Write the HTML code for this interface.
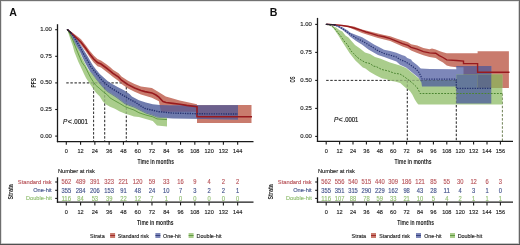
<!DOCTYPE html>
<html><head><meta charset="utf-8"><title>KM curves</title>
<style>html,body{margin:0;padding:0;background:#fff;width:520px;height:245px;overflow:hidden}
svg text{font-family:"Liberation Sans", sans-serif} svg{will-change:transform}</style></head>
<body>
<svg width="520" height="245" viewBox="0 0 520 245" font-family='"Liberation Sans", sans-serif' style="display:block">
<defs><clipPath id="cAr"><path d="M67.50,29.60 L72.00,32.20 L78.20,36.97 L81.00,39.35 L85.70,45.13 L89.70,50.85 L93.70,55.56 L97.50,59.07 L101.00,60.43 L106.40,64.36 L110.00,67.12 L113.00,69.68 L118.60,73.32 L121.50,76.39 L128.00,80.75 L134.60,84.00 L141.00,86.56 L151.90,88.10 L158.90,92.30 L165.80,96.40 L172.80,98.50 L179.70,100.60 L186.70,102.00 L193.60,103.40 L197.00,104.20 L197.00,105.00 L251.50,105.00 L251.50,123.00 L197.00,123.00 L197.00,111.70 L161.00,111.70 L158.90,101.30 L151.90,97.80 L141.00,94.44 L134.60,91.80 L128.00,88.45 L121.50,84.01 L118.60,80.88 L113.00,77.12 L110.00,74.48 L106.40,71.64 L101.00,67.57 L97.50,66.13 L93.70,62.44 L89.70,57.35 L85.70,51.27 L81.00,45.05 L78.20,42.03 L72.00,35.40 L67.50,29.60 Z"/></clipPath><clipPath id="cAb"><path d="M67.50,29.60 L71.00,32.50 L75.00,37.00 L79.00,42.50 L82.00,47.00 L84.70,51.50 L87.50,56.00 L90.30,61.00 L93.00,65.50 L96.00,69.50 L99.80,74.00 L103.70,77.40 L107.60,80.90 L111.80,83.80 L117.60,86.90 L124.00,90.30 L129.60,94.00 L131.90,96.50 L138.90,100.30 L145.80,102.50 L152.80,104.30 L159.70,105.00 L170.00,105.40 L238.00,105.20 L238.00,119.50 L172.80,118.60 L157.00,117.50 L152.80,115.80 L145.80,113.50 L138.90,110.00 L134.00,107.50 L129.60,106.00 L124.70,104.00 L119.80,100.20 L115.70,97.20 L111.80,94.80 L107.80,92.30 L104.70,89.50 L101.70,86.30 L98.80,82.80 L95.80,78.90 L92.90,75.00 L89.70,71.00 L87.30,66.70 L84.70,62.00 L82.30,57.00 L80.30,52.50 L77.00,47.00 L74.50,42.50 L71.50,36.50 L69.00,32.00 L67.50,29.60 Z"/></clipPath><clipPath id="cBr"><path d="M326.40,24.30 L336.00,24.60 L342.00,25.00 L348.50,25.70 L354.00,26.50 L362.00,29.50 L370.00,31.50 L378.00,33.50 L384.10,35.00 L390.20,36.20 L396.40,38.50 L402.50,40.50 L408.00,42.30 L411.10,44.30 L417.20,45.50 L423.40,48.00 L429.50,49.20 L432.00,48.50 L435.70,49.50 L439.30,51.00 L443.00,52.30 L446.70,53.20 L477.60,53.20 L477.60,51.30 L508.90,51.30 L508.90,87.90 L477.60,87.90 L477.60,75.00 L463.50,75.00 L463.50,67.30 L456.50,67.30 L450.40,66.60 L446.70,65.40 L443.00,62.40 L439.30,60.50 L435.70,58.00 L429.50,57.10 L423.40,55.30 L417.20,52.90 L411.10,50.40 L408.00,48.50 L402.50,46.60 L390.20,41.10 L378.00,38.10 L370.00,35.50 L362.00,33.00 L354.00,29.50 L348.50,27.30 L342.00,26.00 L336.00,25.20 L326.40,24.30 Z"/></clipPath><clipPath id="cBb"><path d="M326.40,24.30 L333.00,24.50 L337.50,25.50 L342.40,27.30 L348.50,31.00 L350.00,32.40 L356.10,34.90 L362.20,37.30 L368.40,41.00 L374.50,44.70 L378.00,46.60 L384.10,49.70 L390.20,50.90 L396.40,52.70 L402.50,55.20 L405.00,55.90 L407.30,58.00 L411.10,59.60 L412.20,61.20 L417.10,65.00 L420.80,68.40 L430.00,69.00 L456.30,69.20 L456.30,66.00 L491.30,66.00 L491.30,103.40 L456.30,103.40 L456.30,86.60 L422.00,86.60 L421.40,82.50 L418.40,77.60 L412.20,72.50 L406.10,67.50 L400.00,64.70 L396.40,61.50 L390.20,59.30 L384.10,57.00 L378.00,55.00 L374.50,53.00 L368.40,49.50 L362.20,44.70 L356.10,41.00 L350.00,36.50 L348.50,34.70 L342.40,29.80 L337.50,26.70 L333.00,25.30 L326.40,24.30 Z"/></clipPath></defs>
<rect x="0" y="0" width="520" height="245" fill="#fff"/>
<text x="9.20" y="15.60" font-size="10.6" text-anchor="start" fill="#111" font-weight="bold">A</text>
<g opacity="1">
<line x1="66.30" y1="82.90" x2="126.30" y2="82.90" stroke="#222" stroke-width="0.9" stroke-dasharray="2.4,1.7"/>
<line x1="93.60" y1="82.90" x2="93.60" y2="141.60" stroke="#222" stroke-width="0.9" stroke-dasharray="2.4,1.7"/>
<line x1="104.70" y1="82.90" x2="104.70" y2="141.60" stroke="#222" stroke-width="0.9" stroke-dasharray="2.4,1.7"/>
<line x1="126.30" y1="82.90" x2="126.30" y2="141.60" stroke="#222" stroke-width="0.9" stroke-dasharray="2.4,1.7"/>
</g>
<path d="M67.50,29.60 L72.00,32.20 L78.20,36.97 L81.00,39.35 L85.70,45.13 L89.70,50.85 L93.70,55.56 L97.50,59.07 L101.00,60.43 L106.40,64.36 L110.00,67.12 L113.00,69.68 L118.60,73.32 L121.50,76.39 L128.00,80.75 L134.60,84.00 L141.00,86.56 L151.90,88.10 L158.90,92.30 L165.80,96.40 L172.80,98.50 L179.70,100.60 L186.70,102.00 L193.60,103.40 L197.00,104.20 L197.00,105.00 L251.50,105.00 L251.50,123.00 L197.00,123.00 L197.00,111.70 L161.00,111.70 L158.90,101.30 L151.90,97.80 L141.00,94.44 L134.60,91.80 L128.00,88.45 L121.50,84.01 L118.60,80.88 L113.00,77.12 L110.00,74.48 L106.40,71.64 L101.00,67.57 L97.50,66.13 L93.70,62.44 L89.70,57.35 L85.70,51.27 L81.00,45.05 L78.20,42.03 L72.00,35.40 L67.50,29.60 Z" fill="#c97b6d"/>
<path d="M67.50,29.60 L71.00,32.50 L75.00,37.00 L79.00,42.50 L82.00,47.00 L84.70,51.50 L87.50,56.00 L90.30,61.00 L93.00,65.50 L96.00,69.50 L99.80,74.00 L103.70,77.40 L107.60,80.90 L111.80,83.80 L117.60,86.90 L124.00,90.30 L129.60,94.00 L131.90,96.50 L138.90,100.30 L145.80,102.50 L152.80,104.30 L159.70,105.00 L170.00,105.40 L238.00,105.20 L238.00,119.50 L172.80,118.60 L157.00,117.50 L152.80,115.80 L145.80,113.50 L138.90,110.00 L134.00,107.50 L129.60,106.00 L124.70,104.00 L119.80,100.20 L115.70,97.20 L111.80,94.80 L107.80,92.30 L104.70,89.50 L101.70,86.30 L98.80,82.80 L95.80,78.90 L92.90,75.00 L89.70,71.00 L87.30,66.70 L84.70,62.00 L82.30,57.00 L80.30,52.50 L77.00,47.00 L74.50,42.50 L71.50,36.50 L69.00,32.00 L67.50,29.60 Z" fill="#6f7bad"/>
<path d="M67.50,29.60 L71.00,32.50 L75.00,37.00 L79.00,42.50 L82.00,47.00 L84.70,51.50 L87.50,56.00 L90.30,61.00 L93.00,65.50 L96.00,69.50 L99.80,74.00 L103.70,77.40 L107.60,80.90 L111.80,83.80 L117.60,86.90 L124.00,90.30 L129.60,94.00 L131.90,96.50 L138.90,100.30 L145.80,102.50 L152.80,104.30 L159.70,105.00 L170.00,105.40 L238.00,105.20 L238.00,119.50 L172.80,118.60 L157.00,117.50 L152.80,115.80 L145.80,113.50 L138.90,110.00 L134.00,107.50 L129.60,106.00 L124.70,104.00 L119.80,100.20 L115.70,97.20 L111.80,94.80 L107.80,92.30 L104.70,89.50 L101.70,86.30 L98.80,82.80 L95.80,78.90 L92.90,75.00 L89.70,71.00 L87.30,66.70 L84.70,62.00 L82.30,57.00 L80.30,52.50 L77.00,47.00 L74.50,42.50 L71.50,36.50 L69.00,32.00 L67.50,29.60 Z" fill="#6c608d" clip-path="url(#cAr)"/>
<path d="M67.50,29.60 L69.50,32.00 L72.00,36.50 L74.50,41.50 L77.00,46.50 L79.80,52.00 L81.80,56.90 L84.20,61.80 L86.70,66.70 L89.10,71.00 L92.90,74.00 L95.80,77.90 L98.80,81.80 L101.70,85.30 L104.70,88.50 L107.80,91.30 L111.80,93.80 L115.70,96.20 L119.80,99.20 L124.70,103.00 L129.60,105.00 L134.00,106.50 L138.90,109.00 L145.80,112.50 L152.80,114.80 L157.00,116.80 L167.00,117.50 L167.00,126.50 L157.00,125.50 L152.80,121.00 L145.80,119.00 L138.90,117.00 L134.00,116.50 L129.60,115.00 L124.70,113.50 L119.80,111.50 L114.90,108.70 L110.00,106.70 L106.00,104.50 L102.90,101.60 L99.80,96.50 L95.80,92.60 L92.70,88.00 L90.70,85.10 L88.30,81.60 L86.00,78.00 L84.00,74.00 L82.20,70.00 L80.30,66.00 L78.30,61.80 L76.40,56.90 L74.40,52.00 L72.80,46.00 L71.00,41.00 L69.50,36.50 L68.00,32.00 L67.50,29.60 Z" fill="#aacd8c"/>
<path d="M67.50,29.60 L69.50,32.00 L72.00,36.50 L74.50,41.50 L77.00,46.50 L79.80,52.00 L81.80,56.90 L84.20,61.80 L86.70,66.70 L89.10,71.00 L92.90,74.00 L95.80,77.90 L98.80,81.80 L101.70,85.30 L104.70,88.50 L107.80,91.30 L111.80,93.80 L115.70,96.20 L119.80,99.20 L124.70,103.00 L129.60,105.00 L134.00,106.50 L138.90,109.00 L145.80,112.50 L152.80,114.80 L157.00,116.80 L167.00,117.50 L167.00,126.50 L157.00,125.50 L152.80,121.00 L145.80,119.00 L138.90,117.00 L134.00,116.50 L129.60,115.00 L124.70,113.50 L119.80,111.50 L114.90,108.70 L110.00,106.70 L106.00,104.50 L102.90,101.60 L99.80,96.50 L95.80,92.60 L92.70,88.00 L90.70,85.10 L88.30,81.60 L86.00,78.00 L84.00,74.00 L82.20,70.00 L80.30,66.00 L78.30,61.80 L76.40,56.90 L74.40,52.00 L72.80,46.00 L71.00,41.00 L69.50,36.50 L68.00,32.00 L67.50,29.60 Z" fill="#64789a" clip-path="url(#cAb)"/>
<path d="M67.50,29.60 L69.50,32.00 L72.00,36.50 L74.50,41.50 L77.00,46.50 L79.80,52.00 L81.80,56.90 L84.20,61.80 L86.70,66.70 L89.10,71.00 L92.90,74.00 L95.80,77.90 L98.80,81.80 L101.70,85.30 L104.70,88.50 L107.80,91.30 L111.80,93.80 L115.70,96.20 L119.80,99.20 L124.70,103.00 L129.60,105.00 L134.00,106.50 L138.90,109.00 L145.80,112.50 L152.80,114.80 L157.00,116.80 L167.00,117.50 L167.00,126.50 L157.00,125.50 L152.80,121.00 L145.80,119.00 L138.90,117.00 L134.00,116.50 L129.60,115.00 L124.70,113.50 L119.80,111.50 L114.90,108.70 L110.00,106.70 L106.00,104.50 L102.90,101.60 L99.80,96.50 L95.80,92.60 L92.70,88.00 L90.70,85.10 L88.30,81.60 L86.00,78.00 L84.00,74.00 L82.20,70.00 L80.30,66.00 L78.30,61.80 L76.40,56.90 L74.40,52.00 L72.80,46.00 L71.00,41.00 L69.50,36.50 L68.00,32.00 L67.50,29.60 Z" fill="#9aa660" clip-path="url(#cAr)"/>
<g clip-path="url(#cAr)"><path d="M67.50,29.60 L69.50,32.00 L72.00,36.50 L74.50,41.50 L77.00,46.50 L79.80,52.00 L81.80,56.90 L84.20,61.80 L86.70,66.70 L89.10,71.00 L92.90,74.00 L95.80,77.90 L98.80,81.80 L101.70,85.30 L104.70,88.50 L107.80,91.30 L111.80,93.80 L115.70,96.20 L119.80,99.20 L124.70,103.00 L129.60,105.00 L134.00,106.50 L138.90,109.00 L145.80,112.50 L152.80,114.80 L157.00,116.80 L167.00,117.50 L167.00,126.50 L157.00,125.50 L152.80,121.00 L145.80,119.00 L138.90,117.00 L134.00,116.50 L129.60,115.00 L124.70,113.50 L119.80,111.50 L114.90,108.70 L110.00,106.70 L106.00,104.50 L102.90,101.60 L99.80,96.50 L95.80,92.60 L92.70,88.00 L90.70,85.10 L88.30,81.60 L86.00,78.00 L84.00,74.00 L82.20,70.00 L80.30,66.00 L78.30,61.80 L76.40,56.90 L74.40,52.00 L72.80,46.00 L71.00,41.00 L69.50,36.50 L68.00,32.00 L67.50,29.60 Z" fill="#5f6c89" clip-path="url(#cAb)"/></g>
<g opacity="0.3">
<line x1="66.30" y1="82.90" x2="126.30" y2="82.90" stroke="#222" stroke-width="0.9" stroke-dasharray="2.4,1.7"/>
<line x1="93.60" y1="82.90" x2="93.60" y2="141.60" stroke="#222" stroke-width="0.9" stroke-dasharray="2.4,1.7"/>
<line x1="104.70" y1="82.90" x2="104.70" y2="141.60" stroke="#222" stroke-width="0.9" stroke-dasharray="2.4,1.7"/>
<line x1="126.30" y1="82.90" x2="126.30" y2="141.60" stroke="#222" stroke-width="0.9" stroke-dasharray="2.4,1.7"/>
</g>
<path d="M67.50,29.60 L72.00,33.80 L78.20,39.50 L81.00,42.20 L85.70,48.20 L89.70,54.10 L93.70,59.00 L97.50,62.60 L101.00,64.00 L106.40,68.00 L110.00,70.80 L113.00,73.40 L118.60,77.10 L121.50,80.20 L128.00,84.60 L134.60,87.90 L141.00,90.50 L145.00,91.60 L151.90,92.90 L156.00,95.00 L158.90,97.10 L163.00,101.50 L166.00,102.50 L172.80,103.40 L180.00,104.30 L186.70,105.40 L197.00,106.60 L197.00,116.80 L252.00,116.80" fill="none" stroke="#981a1e" stroke-width="1.6"/>
<path d="M67.50,29.60 L72.10,34.10 L76.90,42.00 L79.90,46.90 L82.80,52.80 L85.80,57.70 L88.70,62.60 L90.20,66.00 L93.60,70.00 L96.80,74.00 L100.70,78.90 L104.70,82.80 L108.60,86.30 L112.00,88.70 L116.00,91.00 L120.00,93.50 L125.00,96.50 L130.00,99.50 L135.00,102.00 L140.00,105.50 L145.00,108.50 L158.90,111.70 L172.80,113.10 L200.00,113.80 L238.00,114.00" fill="none" stroke="#24306f" stroke-width="1.4" stroke-dasharray="1.3,1.1"/>
<path d="M67.50,29.60 L70.50,35.00 L73.00,40.50 L75.50,46.90 L77.90,52.80 L79.90,57.70 L82.00,62.50 L85.00,66.50 L86.80,69.90 L88.70,73.80 L90.70,77.70 L93.20,81.60 L95.60,85.10 L99.80,88.70 L103.70,92.10 L107.60,95.10 L110.00,97.90 L114.90,100.80 L119.80,103.50 L124.70,106.50 L129.60,108.50 L134.00,110.00 L138.90,112.70 L145.80,115.00 L152.80,116.80 L157.00,118.90 L167.00,119.60" fill="none" stroke="#4f8f32" stroke-width="0.8"/>
<path d="M67.20,29.60 L71.10,33.00" stroke="#2a2030" stroke-width="1.3" fill="none" stroke-linecap="round"/>
<line x1="57.50" y1="24.20" x2="57.50" y2="142.20" stroke="#1a1a1a" stroke-width="1.3"/>
<line x1="56.90" y1="141.60" x2="253.50" y2="141.60" stroke="#1a1a1a" stroke-width="1.3"/>
<line x1="55.20" y1="136.10" x2="57.50" y2="136.10" stroke="#1a1a1a" stroke-width="1.1"/>
<text x="51.90" y="137.60" font-size="5.6" text-anchor="end" fill="#262626" stroke="#262626" stroke-width="0.14" textLength="11.60" lengthAdjust="spacingAndGlyphs">0.00</text>
<line x1="55.20" y1="109.50" x2="57.50" y2="109.50" stroke="#1a1a1a" stroke-width="1.1"/>
<text x="51.90" y="111.00" font-size="5.6" text-anchor="end" fill="#262626" stroke="#262626" stroke-width="0.14" textLength="11.60" lengthAdjust="spacingAndGlyphs">0.25</text>
<line x1="55.20" y1="82.90" x2="57.50" y2="82.90" stroke="#1a1a1a" stroke-width="1.1"/>
<text x="51.90" y="84.40" font-size="5.6" text-anchor="end" fill="#262626" stroke="#262626" stroke-width="0.14" textLength="11.60" lengthAdjust="spacingAndGlyphs">0.50</text>
<line x1="55.20" y1="56.30" x2="57.50" y2="56.30" stroke="#1a1a1a" stroke-width="1.1"/>
<text x="51.90" y="57.80" font-size="5.6" text-anchor="end" fill="#262626" stroke="#262626" stroke-width="0.14" textLength="11.60" lengthAdjust="spacingAndGlyphs">0.75</text>
<line x1="55.20" y1="29.70" x2="57.50" y2="29.70" stroke="#1a1a1a" stroke-width="1.1"/>
<text x="51.90" y="31.20" font-size="5.6" text-anchor="end" fill="#262626" stroke="#262626" stroke-width="0.14" textLength="11.60" lengthAdjust="spacingAndGlyphs">1.00</text>
<line x1="66.30" y1="141.60" x2="66.30" y2="144.80" stroke="#1a1a1a" stroke-width="1.1"/>
<text x="66.30" y="153.00" font-size="5.6" text-anchor="middle" fill="#262626" stroke="#262626" stroke-width="0.14">0</text>
<line x1="80.58" y1="141.60" x2="80.58" y2="144.80" stroke="#1a1a1a" stroke-width="1.1"/>
<text x="80.58" y="153.00" font-size="5.6" text-anchor="middle" fill="#262626" stroke="#262626" stroke-width="0.14">12</text>
<line x1="94.86" y1="141.60" x2="94.86" y2="144.80" stroke="#1a1a1a" stroke-width="1.1"/>
<text x="94.86" y="153.00" font-size="5.6" text-anchor="middle" fill="#262626" stroke="#262626" stroke-width="0.14">24</text>
<line x1="109.14" y1="141.60" x2="109.14" y2="144.80" stroke="#1a1a1a" stroke-width="1.1"/>
<text x="109.14" y="153.00" font-size="5.6" text-anchor="middle" fill="#262626" stroke="#262626" stroke-width="0.14">36</text>
<line x1="123.42" y1="141.60" x2="123.42" y2="144.80" stroke="#1a1a1a" stroke-width="1.1"/>
<text x="123.42" y="153.00" font-size="5.6" text-anchor="middle" fill="#262626" stroke="#262626" stroke-width="0.14">48</text>
<line x1="137.70" y1="141.60" x2="137.70" y2="144.80" stroke="#1a1a1a" stroke-width="1.1"/>
<text x="137.70" y="153.00" font-size="5.6" text-anchor="middle" fill="#262626" stroke="#262626" stroke-width="0.14">60</text>
<line x1="151.98" y1="141.60" x2="151.98" y2="144.80" stroke="#1a1a1a" stroke-width="1.1"/>
<text x="151.98" y="153.00" font-size="5.6" text-anchor="middle" fill="#262626" stroke="#262626" stroke-width="0.14">72</text>
<line x1="166.26" y1="141.60" x2="166.26" y2="144.80" stroke="#1a1a1a" stroke-width="1.1"/>
<text x="166.26" y="153.00" font-size="5.6" text-anchor="middle" fill="#262626" stroke="#262626" stroke-width="0.14">84</text>
<line x1="180.54" y1="141.60" x2="180.54" y2="144.80" stroke="#1a1a1a" stroke-width="1.1"/>
<text x="180.54" y="153.00" font-size="5.6" text-anchor="middle" fill="#262626" stroke="#262626" stroke-width="0.14">96</text>
<line x1="194.82" y1="141.60" x2="194.82" y2="144.80" stroke="#1a1a1a" stroke-width="1.1"/>
<text x="194.82" y="153.00" font-size="5.6" text-anchor="middle" fill="#262626" stroke="#262626" stroke-width="0.14">108</text>
<line x1="209.10" y1="141.60" x2="209.10" y2="144.80" stroke="#1a1a1a" stroke-width="1.1"/>
<text x="209.10" y="153.00" font-size="5.6" text-anchor="middle" fill="#262626" stroke="#262626" stroke-width="0.14">120</text>
<line x1="223.38" y1="141.60" x2="223.38" y2="144.80" stroke="#1a1a1a" stroke-width="1.1"/>
<text x="223.38" y="153.00" font-size="5.6" text-anchor="middle" fill="#262626" stroke="#262626" stroke-width="0.14">132</text>
<line x1="237.66" y1="141.60" x2="237.66" y2="144.80" stroke="#1a1a1a" stroke-width="1.1"/>
<text x="237.66" y="153.00" font-size="5.6" text-anchor="middle" fill="#262626" stroke="#262626" stroke-width="0.14">144</text>
<text x="35.8" y="82.80" font-size="8" font-weight="bold" text-anchor="middle" fill="#1a1a1a" textLength="9.6" lengthAdjust="spacingAndGlyphs" transform="rotate(-90 35.8 82.80)">PFS</text>
<text x="137.50" y="163.90" font-size="7.6" text-anchor="start" fill="#222" font-weight="bold" textLength="36.50" lengthAdjust="spacingAndGlyphs">Time in months</text>
<text x="63.00" y="123.80" font-size="6.4" font-style="italic" fill="#262626" stroke="#262626" stroke-width="0.2">P</text>
<text x="67.70" y="123.80" font-size="6.4" fill="#262626" stroke="#262626" stroke-width="0.2" textLength="4.2" lengthAdjust="spacingAndGlyphs">&lt;</text>
<text x="72.60" y="123.80" font-size="6.4" fill="#262626" stroke="#262626" stroke-width="0.2" textLength="15.30" lengthAdjust="spacingAndGlyphs">.0001</text>
<text x="58.00" y="172.70" font-size="6.0" text-anchor="start" fill="#222" stroke="#222" stroke-width="0.14" textLength="36.80" lengthAdjust="spacingAndGlyphs">Number at risk</text>
<line x1="57.50" y1="177.30" x2="57.50" y2="202.80" stroke="#1a1a1a" stroke-width="1.3"/>
<line x1="56.90" y1="202.20" x2="253.50" y2="202.20" stroke="#1a1a1a" stroke-width="1.3"/>
<line x1="55.20" y1="182.00" x2="57.50" y2="182.00" stroke="#1a1a1a" stroke-width="1.1"/>
<text x="51.70" y="184.00" font-size="5.6" text-anchor="end" fill="#b8545a" stroke="#b8545a" stroke-width="0.14" textLength="33.90" lengthAdjust="spacingAndGlyphs">Standard risk</text>
<text x="66.30" y="184.30" font-size="6.3" text-anchor="middle" fill="#b8545a" stroke="#b8545a" stroke-width="0.14" textLength="9.67" lengthAdjust="spacingAndGlyphs">562</text>
<text x="80.58" y="184.30" font-size="6.3" text-anchor="middle" fill="#b8545a" stroke="#b8545a" stroke-width="0.14" textLength="9.67" lengthAdjust="spacingAndGlyphs">489</text>
<text x="94.86" y="184.30" font-size="6.3" text-anchor="middle" fill="#b8545a" stroke="#b8545a" stroke-width="0.14" textLength="9.67" lengthAdjust="spacingAndGlyphs">391</text>
<text x="109.14" y="184.30" font-size="6.3" text-anchor="middle" fill="#b8545a" stroke="#b8545a" stroke-width="0.14" textLength="9.67" lengthAdjust="spacingAndGlyphs">323</text>
<text x="123.42" y="184.30" font-size="6.3" text-anchor="middle" fill="#b8545a" stroke="#b8545a" stroke-width="0.14" textLength="9.67" lengthAdjust="spacingAndGlyphs">221</text>
<text x="137.70" y="184.30" font-size="6.3" text-anchor="middle" fill="#b8545a" stroke="#b8545a" stroke-width="0.14" textLength="9.67" lengthAdjust="spacingAndGlyphs">120</text>
<text x="151.98" y="184.30" font-size="6.3" text-anchor="middle" fill="#b8545a" stroke="#b8545a" stroke-width="0.14" textLength="6.45" lengthAdjust="spacingAndGlyphs">59</text>
<text x="166.26" y="184.30" font-size="6.3" text-anchor="middle" fill="#b8545a" stroke="#b8545a" stroke-width="0.14" textLength="6.45" lengthAdjust="spacingAndGlyphs">33</text>
<text x="180.54" y="184.30" font-size="6.3" text-anchor="middle" fill="#b8545a" stroke="#b8545a" stroke-width="0.14" textLength="6.45" lengthAdjust="spacingAndGlyphs">16</text>
<text x="194.82" y="184.30" font-size="6.3" text-anchor="middle" fill="#b8545a" stroke="#b8545a" stroke-width="0.14" textLength="3.22" lengthAdjust="spacingAndGlyphs">9</text>
<text x="209.10" y="184.30" font-size="6.3" text-anchor="middle" fill="#b8545a" stroke="#b8545a" stroke-width="0.14" textLength="3.22" lengthAdjust="spacingAndGlyphs">4</text>
<text x="223.38" y="184.30" font-size="6.3" text-anchor="middle" fill="#b8545a" stroke="#b8545a" stroke-width="0.14" textLength="3.22" lengthAdjust="spacingAndGlyphs">2</text>
<text x="237.66" y="184.30" font-size="6.3" text-anchor="middle" fill="#b8545a" stroke="#b8545a" stroke-width="0.14" textLength="3.22" lengthAdjust="spacingAndGlyphs">2</text>
<line x1="55.20" y1="190.30" x2="57.50" y2="190.30" stroke="#1a1a1a" stroke-width="1.1"/>
<text x="51.70" y="192.30" font-size="5.6" text-anchor="end" fill="#43538b" stroke="#43538b" stroke-width="0.14" textLength="18.50" lengthAdjust="spacingAndGlyphs">One-hit</text>
<text x="66.30" y="192.60" font-size="6.3" text-anchor="middle" fill="#43538b" stroke="#43538b" stroke-width="0.14" textLength="9.67" lengthAdjust="spacingAndGlyphs">355</text>
<text x="80.58" y="192.60" font-size="6.3" text-anchor="middle" fill="#43538b" stroke="#43538b" stroke-width="0.14" textLength="9.67" lengthAdjust="spacingAndGlyphs">284</text>
<text x="94.86" y="192.60" font-size="6.3" text-anchor="middle" fill="#43538b" stroke="#43538b" stroke-width="0.14" textLength="9.67" lengthAdjust="spacingAndGlyphs">206</text>
<text x="109.14" y="192.60" font-size="6.3" text-anchor="middle" fill="#43538b" stroke="#43538b" stroke-width="0.14" textLength="9.67" lengthAdjust="spacingAndGlyphs">153</text>
<text x="123.42" y="192.60" font-size="6.3" text-anchor="middle" fill="#43538b" stroke="#43538b" stroke-width="0.14" textLength="6.45" lengthAdjust="spacingAndGlyphs">91</text>
<text x="137.70" y="192.60" font-size="6.3" text-anchor="middle" fill="#43538b" stroke="#43538b" stroke-width="0.14" textLength="6.45" lengthAdjust="spacingAndGlyphs">48</text>
<text x="151.98" y="192.60" font-size="6.3" text-anchor="middle" fill="#43538b" stroke="#43538b" stroke-width="0.14" textLength="6.45" lengthAdjust="spacingAndGlyphs">24</text>
<text x="166.26" y="192.60" font-size="6.3" text-anchor="middle" fill="#43538b" stroke="#43538b" stroke-width="0.14" textLength="6.45" lengthAdjust="spacingAndGlyphs">10</text>
<text x="180.54" y="192.60" font-size="6.3" text-anchor="middle" fill="#43538b" stroke="#43538b" stroke-width="0.14" textLength="3.22" lengthAdjust="spacingAndGlyphs">7</text>
<text x="194.82" y="192.60" font-size="6.3" text-anchor="middle" fill="#43538b" stroke="#43538b" stroke-width="0.14" textLength="3.22" lengthAdjust="spacingAndGlyphs">3</text>
<text x="209.10" y="192.60" font-size="6.3" text-anchor="middle" fill="#43538b" stroke="#43538b" stroke-width="0.14" textLength="3.22" lengthAdjust="spacingAndGlyphs">2</text>
<text x="223.38" y="192.60" font-size="6.3" text-anchor="middle" fill="#43538b" stroke="#43538b" stroke-width="0.14" textLength="3.22" lengthAdjust="spacingAndGlyphs">2</text>
<text x="237.66" y="192.60" font-size="6.3" text-anchor="middle" fill="#43538b" stroke="#43538b" stroke-width="0.14" textLength="3.22" lengthAdjust="spacingAndGlyphs">1</text>
<line x1="55.20" y1="198.40" x2="57.50" y2="198.40" stroke="#1a1a1a" stroke-width="1.1"/>
<text x="51.70" y="200.40" font-size="5.6" text-anchor="end" fill="#92bf72" stroke="#92bf72" stroke-width="0.14" textLength="25.70" lengthAdjust="spacingAndGlyphs">Double-hit</text>
<text x="66.30" y="200.70" font-size="6.3" text-anchor="middle" fill="#92bf72" stroke="#92bf72" stroke-width="0.14" textLength="9.67" lengthAdjust="spacingAndGlyphs">116</text>
<text x="80.58" y="200.70" font-size="6.3" text-anchor="middle" fill="#92bf72" stroke="#92bf72" stroke-width="0.14" textLength="6.45" lengthAdjust="spacingAndGlyphs">84</text>
<text x="94.86" y="200.70" font-size="6.3" text-anchor="middle" fill="#92bf72" stroke="#92bf72" stroke-width="0.14" textLength="6.45" lengthAdjust="spacingAndGlyphs">53</text>
<text x="109.14" y="200.70" font-size="6.3" text-anchor="middle" fill="#92bf72" stroke="#92bf72" stroke-width="0.14" textLength="6.45" lengthAdjust="spacingAndGlyphs">39</text>
<text x="123.42" y="200.70" font-size="6.3" text-anchor="middle" fill="#92bf72" stroke="#92bf72" stroke-width="0.14" textLength="6.45" lengthAdjust="spacingAndGlyphs">22</text>
<text x="137.70" y="200.70" font-size="6.3" text-anchor="middle" fill="#92bf72" stroke="#92bf72" stroke-width="0.14" textLength="6.45" lengthAdjust="spacingAndGlyphs">12</text>
<text x="151.98" y="200.70" font-size="6.3" text-anchor="middle" fill="#92bf72" stroke="#92bf72" stroke-width="0.14" textLength="3.22" lengthAdjust="spacingAndGlyphs">7</text>
<text x="166.26" y="200.70" font-size="6.3" text-anchor="middle" fill="#92bf72" stroke="#92bf72" stroke-width="0.14" textLength="3.22" lengthAdjust="spacingAndGlyphs">1</text>
<text x="180.54" y="200.70" font-size="6.3" text-anchor="middle" fill="#92bf72" stroke="#92bf72" stroke-width="0.14" textLength="3.22" lengthAdjust="spacingAndGlyphs">0</text>
<text x="194.82" y="200.70" font-size="6.3" text-anchor="middle" fill="#92bf72" stroke="#92bf72" stroke-width="0.14" textLength="3.22" lengthAdjust="spacingAndGlyphs">0</text>
<text x="209.10" y="200.70" font-size="6.3" text-anchor="middle" fill="#92bf72" stroke="#92bf72" stroke-width="0.14" textLength="3.22" lengthAdjust="spacingAndGlyphs">0</text>
<text x="223.38" y="200.70" font-size="6.3" text-anchor="middle" fill="#92bf72" stroke="#92bf72" stroke-width="0.14" textLength="3.22" lengthAdjust="spacingAndGlyphs">0</text>
<text x="237.66" y="200.70" font-size="6.3" text-anchor="middle" fill="#92bf72" stroke="#92bf72" stroke-width="0.14" textLength="3.22" lengthAdjust="spacingAndGlyphs">0</text>
<line x1="66.30" y1="202.20" x2="66.30" y2="205.40" stroke="#1a1a1a" stroke-width="1.1"/>
<text x="66.30" y="213.70" font-size="5.6" text-anchor="middle" fill="#262626" stroke="#262626" stroke-width="0.14">0</text>
<line x1="80.58" y1="202.20" x2="80.58" y2="205.40" stroke="#1a1a1a" stroke-width="1.1"/>
<text x="80.58" y="213.70" font-size="5.6" text-anchor="middle" fill="#262626" stroke="#262626" stroke-width="0.14">12</text>
<line x1="94.86" y1="202.20" x2="94.86" y2="205.40" stroke="#1a1a1a" stroke-width="1.1"/>
<text x="94.86" y="213.70" font-size="5.6" text-anchor="middle" fill="#262626" stroke="#262626" stroke-width="0.14">24</text>
<line x1="109.14" y1="202.20" x2="109.14" y2="205.40" stroke="#1a1a1a" stroke-width="1.1"/>
<text x="109.14" y="213.70" font-size="5.6" text-anchor="middle" fill="#262626" stroke="#262626" stroke-width="0.14">36</text>
<line x1="123.42" y1="202.20" x2="123.42" y2="205.40" stroke="#1a1a1a" stroke-width="1.1"/>
<text x="123.42" y="213.70" font-size="5.6" text-anchor="middle" fill="#262626" stroke="#262626" stroke-width="0.14">48</text>
<line x1="137.70" y1="202.20" x2="137.70" y2="205.40" stroke="#1a1a1a" stroke-width="1.1"/>
<text x="137.70" y="213.70" font-size="5.6" text-anchor="middle" fill="#262626" stroke="#262626" stroke-width="0.14">60</text>
<line x1="151.98" y1="202.20" x2="151.98" y2="205.40" stroke="#1a1a1a" stroke-width="1.1"/>
<text x="151.98" y="213.70" font-size="5.6" text-anchor="middle" fill="#262626" stroke="#262626" stroke-width="0.14">72</text>
<line x1="166.26" y1="202.20" x2="166.26" y2="205.40" stroke="#1a1a1a" stroke-width="1.1"/>
<text x="166.26" y="213.70" font-size="5.6" text-anchor="middle" fill="#262626" stroke="#262626" stroke-width="0.14">84</text>
<line x1="180.54" y1="202.20" x2="180.54" y2="205.40" stroke="#1a1a1a" stroke-width="1.1"/>
<text x="180.54" y="213.70" font-size="5.6" text-anchor="middle" fill="#262626" stroke="#262626" stroke-width="0.14">96</text>
<line x1="194.82" y1="202.20" x2="194.82" y2="205.40" stroke="#1a1a1a" stroke-width="1.1"/>
<text x="194.82" y="213.70" font-size="5.6" text-anchor="middle" fill="#262626" stroke="#262626" stroke-width="0.14">108</text>
<line x1="209.10" y1="202.20" x2="209.10" y2="205.40" stroke="#1a1a1a" stroke-width="1.1"/>
<text x="209.10" y="213.70" font-size="5.6" text-anchor="middle" fill="#262626" stroke="#262626" stroke-width="0.14">120</text>
<line x1="223.38" y1="202.20" x2="223.38" y2="205.40" stroke="#1a1a1a" stroke-width="1.1"/>
<text x="223.38" y="213.70" font-size="5.6" text-anchor="middle" fill="#262626" stroke="#262626" stroke-width="0.14">132</text>
<line x1="237.66" y1="202.20" x2="237.66" y2="205.40" stroke="#1a1a1a" stroke-width="1.1"/>
<text x="237.66" y="213.70" font-size="5.6" text-anchor="middle" fill="#262626" stroke="#262626" stroke-width="0.14">144</text>
<text x="137.10" y="225.00" font-size="7.6" text-anchor="start" fill="#222" font-weight="bold" textLength="36.50" lengthAdjust="spacingAndGlyphs">Time in months</text>
<text x="13.00" y="191.80" font-size="7.8" font-weight="bold" text-anchor="middle" fill="#222" textLength="15.4" lengthAdjust="spacingAndGlyphs" transform="rotate(-90 13.00 191.8)">Strata</text>
<text x="269.80" y="15.90" font-size="10.6" text-anchor="start" fill="#111" font-weight="bold">B</text>
<g opacity="1">
<line x1="326.20" y1="80.40" x2="456.30" y2="80.40" stroke="#222" stroke-width="0.9" stroke-dasharray="2.4,1.7"/>
<line x1="407.30" y1="80.40" x2="407.30" y2="141.30" stroke="#222" stroke-width="0.9" stroke-dasharray="2.4,1.7"/>
<line x1="456.30" y1="80.40" x2="456.30" y2="141.30" stroke="#222" stroke-width="0.9" stroke-dasharray="2.4,1.7"/>
<line x1="502.40" y1="93.50" x2="502.40" y2="141.30" stroke="#6b7d50" stroke-width="0.9" stroke-dasharray="2.4,1.7"/>
</g>
<path d="M326.40,24.30 L336.00,24.60 L342.00,25.00 L348.50,25.70 L354.00,26.50 L362.00,29.50 L370.00,31.50 L378.00,33.50 L384.10,35.00 L390.20,36.20 L396.40,38.50 L402.50,40.50 L408.00,42.30 L411.10,44.30 L417.20,45.50 L423.40,48.00 L429.50,49.20 L432.00,48.50 L435.70,49.50 L439.30,51.00 L443.00,52.30 L446.70,53.20 L477.60,53.20 L477.60,51.30 L508.90,51.30 L508.90,87.90 L477.60,87.90 L477.60,75.00 L463.50,75.00 L463.50,67.30 L456.50,67.30 L450.40,66.60 L446.70,65.40 L443.00,62.40 L439.30,60.50 L435.70,58.00 L429.50,57.10 L423.40,55.30 L417.20,52.90 L411.10,50.40 L408.00,48.50 L402.50,46.60 L390.20,41.10 L378.00,38.10 L370.00,35.50 L362.00,33.00 L354.00,29.50 L348.50,27.30 L342.00,26.00 L336.00,25.20 L326.40,24.30 Z" fill="#c97b6d"/>
<path d="M326.40,24.30 L333.00,24.50 L337.50,25.50 L342.40,27.30 L348.50,31.00 L350.00,32.40 L356.10,34.90 L362.20,37.30 L368.40,41.00 L374.50,44.70 L378.00,46.60 L384.10,49.70 L390.20,50.90 L396.40,52.70 L402.50,55.20 L405.00,55.90 L407.30,58.00 L411.10,59.60 L412.20,61.20 L417.10,65.00 L420.80,68.40 L430.00,69.00 L456.30,69.20 L456.30,66.00 L491.30,66.00 L491.30,103.40 L456.30,103.40 L456.30,86.60 L422.00,86.60 L421.40,82.50 L418.40,77.60 L412.20,72.50 L406.10,67.50 L400.00,64.70 L396.40,61.50 L390.20,59.30 L384.10,57.00 L378.00,55.00 L374.50,53.00 L368.40,49.50 L362.20,44.70 L356.10,41.00 L350.00,36.50 L348.50,34.70 L342.40,29.80 L337.50,26.70 L333.00,25.30 L326.40,24.30 Z" fill="#7d87b9"/>
<path d="M326.40,24.30 L333.00,24.50 L337.50,25.50 L342.40,27.30 L348.50,31.00 L350.00,32.40 L356.10,34.90 L362.20,37.30 L368.40,41.00 L374.50,44.70 L378.00,46.60 L384.10,49.70 L390.20,50.90 L396.40,52.70 L402.50,55.20 L405.00,55.90 L407.30,58.00 L411.10,59.60 L412.20,61.20 L417.10,65.00 L420.80,68.40 L430.00,69.00 L456.30,69.20 L456.30,66.00 L491.30,66.00 L491.30,103.40 L456.30,103.40 L456.30,86.60 L422.00,86.60 L421.40,82.50 L418.40,77.60 L412.20,72.50 L406.10,67.50 L400.00,64.70 L396.40,61.50 L390.20,59.30 L384.10,57.00 L378.00,55.00 L374.50,53.00 L368.40,49.50 L362.20,44.70 L356.10,41.00 L350.00,36.50 L348.50,34.70 L342.40,29.80 L337.50,26.70 L333.00,25.30 L326.40,24.30 Z" fill="#6c608d" clip-path="url(#cBr)"/>
<path d="M326.40,24.30 L332.60,26.00 L336.20,27.50 L339.30,30.00 L342.40,31.50 L345.40,35.50 L348.50,37.50 L351.50,41.00 L355.00,45.00 L360.00,48.50 L365.00,52.50 L370.00,54.00 L375.00,57.00 L380.00,58.50 L385.00,60.50 L390.00,62.50 L395.00,64.00 L400.00,65.50 L406.10,68.00 L412.20,73.00 L418.40,78.00 L420.50,80.00 L456.30,80.00 L456.30,74.40 L502.40,74.40 L502.40,104.50 L418.50,104.50 L417.20,103.20 L414.80,99.50 L412.30,94.60 L409.90,90.90 L405.00,87.20 L400.20,83.00 L395.00,81.50 L390.00,80.80 L385.80,79.00 L382.20,78.50 L376.10,75.50 L370.00,72.00 L365.40,68.50 L362.80,67.50 L355.40,60.50 L349.50,53.00 L346.00,47.50 L342.40,42.00 L338.70,36.00 L335.00,30.50 L332.60,27.30 L330.00,25.30 L326.40,24.30 Z" fill="#aacd8c"/>
<path d="M326.40,24.30 L332.60,26.00 L336.20,27.50 L339.30,30.00 L342.40,31.50 L345.40,35.50 L348.50,37.50 L351.50,41.00 L355.00,45.00 L360.00,48.50 L365.00,52.50 L370.00,54.00 L375.00,57.00 L380.00,58.50 L385.00,60.50 L390.00,62.50 L395.00,64.00 L400.00,65.50 L406.10,68.00 L412.20,73.00 L418.40,78.00 L420.50,80.00 L456.30,80.00 L456.30,74.40 L502.40,74.40 L502.40,104.50 L418.50,104.50 L417.20,103.20 L414.80,99.50 L412.30,94.60 L409.90,90.90 L405.00,87.20 L400.20,83.00 L395.00,81.50 L390.00,80.80 L385.80,79.00 L382.20,78.50 L376.10,75.50 L370.00,72.00 L365.40,68.50 L362.80,67.50 L355.40,60.50 L349.50,53.00 L346.00,47.50 L342.40,42.00 L338.70,36.00 L335.00,30.50 L332.60,27.30 L330.00,25.30 L326.40,24.30 Z" fill="#64789a" clip-path="url(#cBb)"/>
<path d="M326.40,24.30 L332.60,26.00 L336.20,27.50 L339.30,30.00 L342.40,31.50 L345.40,35.50 L348.50,37.50 L351.50,41.00 L355.00,45.00 L360.00,48.50 L365.00,52.50 L370.00,54.00 L375.00,57.00 L380.00,58.50 L385.00,60.50 L390.00,62.50 L395.00,64.00 L400.00,65.50 L406.10,68.00 L412.20,73.00 L418.40,78.00 L420.50,80.00 L456.30,80.00 L456.30,74.40 L502.40,74.40 L502.40,104.50 L418.50,104.50 L417.20,103.20 L414.80,99.50 L412.30,94.60 L409.90,90.90 L405.00,87.20 L400.20,83.00 L395.00,81.50 L390.00,80.80 L385.80,79.00 L382.20,78.50 L376.10,75.50 L370.00,72.00 L365.40,68.50 L362.80,67.50 L355.40,60.50 L349.50,53.00 L346.00,47.50 L342.40,42.00 L338.70,36.00 L335.00,30.50 L332.60,27.30 L330.00,25.30 L326.40,24.30 Z" fill="#9aa660" clip-path="url(#cBr)"/>
<g clip-path="url(#cBr)"><path d="M326.40,24.30 L332.60,26.00 L336.20,27.50 L339.30,30.00 L342.40,31.50 L345.40,35.50 L348.50,37.50 L351.50,41.00 L355.00,45.00 L360.00,48.50 L365.00,52.50 L370.00,54.00 L375.00,57.00 L380.00,58.50 L385.00,60.50 L390.00,62.50 L395.00,64.00 L400.00,65.50 L406.10,68.00 L412.20,73.00 L418.40,78.00 L420.50,80.00 L456.30,80.00 L456.30,74.40 L502.40,74.40 L502.40,104.50 L418.50,104.50 L417.20,103.20 L414.80,99.50 L412.30,94.60 L409.90,90.90 L405.00,87.20 L400.20,83.00 L395.00,81.50 L390.00,80.80 L385.80,79.00 L382.20,78.50 L376.10,75.50 L370.00,72.00 L365.40,68.50 L362.80,67.50 L355.40,60.50 L349.50,53.00 L346.00,47.50 L342.40,42.00 L338.70,36.00 L335.00,30.50 L332.60,27.30 L330.00,25.30 L326.40,24.30 Z" fill="#5f6c89" clip-path="url(#cBb)"/></g>
<g opacity="0.3">
<line x1="326.20" y1="80.40" x2="456.30" y2="80.40" stroke="#222" stroke-width="0.9" stroke-dasharray="2.4,1.7"/>
<line x1="407.30" y1="80.40" x2="407.30" y2="141.30" stroke="#222" stroke-width="0.9" stroke-dasharray="2.4,1.7"/>
<line x1="456.30" y1="80.40" x2="456.30" y2="141.30" stroke="#222" stroke-width="0.9" stroke-dasharray="2.4,1.7"/>
<line x1="502.40" y1="93.50" x2="502.40" y2="141.30" stroke="#6b7d50" stroke-width="0.9" stroke-dasharray="2.4,1.7"/>
</g>
<path d="M326.40,24.30 L336.00,24.90 L342.00,25.50 L348.50,26.50 L354.00,28.00 L360.80,30.20 L366.00,32.00 L371.00,33.30 L378.00,35.60 L384.10,36.80 L390.20,38.70 L396.40,41.10 L402.50,43.60 L408.00,45.40 L411.10,47.30 L417.20,49.20 L423.40,51.60 L429.50,52.90 L435.70,53.20 L439.30,55.60 L443.00,57.50 L446.70,59.90 L456.50,60.50 L463.50,61.10 L463.50,63.60 L477.60,63.60 L477.60,72.30 L509.50,72.30" fill="none" stroke="#981a1e" stroke-width="1.4"/>
<path d="M326.40,24.30 L333.00,24.80 L337.50,26.00 L342.40,28.60 L348.50,32.90 L354.00,36.50 L356.10,38.00 L362.20,41.00 L368.40,44.70 L374.50,48.40 L378.00,50.90 L384.10,53.40 L390.20,55.20 L396.40,57.00 L400.00,59.50 L405.00,61.50 L409.90,64.50 L414.80,68.00 L418.40,71.50 L420.80,76.00 L422.00,79.00 L456.30,79.20 L456.30,88.40 L491.30,88.40" fill="none" stroke="#24306f" stroke-width="1.2" stroke-dasharray="1.3,1.2"/>
<path d="M326.40,24.30 L330.00,25.30 L333.80,27.50 L337.50,32.20 L341.20,36.70 L344.80,42.00 L347.40,44.50 L351.10,51.00 L353.60,53.50 L357.20,57.30 L361.00,60.00 L365.40,62.50 L370.00,63.50 L373.60,66.20 L376.10,66.50 L381.70,69.50 L388.40,71.00 L394.50,73.30 L400.00,74.00 L404.00,76.50 L407.30,79.00 L409.80,81.00 L413.50,84.00 L417.10,87.50 L419.00,91.00 L420.00,93.50 L502.30,93.50" fill="none" stroke="#4a8530" stroke-width="1.0" stroke-dasharray="1.8,1.3"/>
<path d="M326.10,24.30 L335.40,24.90" stroke="#2a2030" stroke-width="1.3" fill="none" stroke-linecap="round"/>
<line x1="317.50" y1="17.90" x2="317.50" y2="141.90" stroke="#1a1a1a" stroke-width="1.3"/>
<line x1="316.90" y1="141.30" x2="513.00" y2="141.30" stroke="#1a1a1a" stroke-width="1.3"/>
<line x1="315.20" y1="136.40" x2="317.50" y2="136.40" stroke="#1a1a1a" stroke-width="1.1"/>
<text x="311.90" y="137.90" font-size="5.6" text-anchor="end" fill="#262626" stroke="#262626" stroke-width="0.14" textLength="11.60" lengthAdjust="spacingAndGlyphs">0.00</text>
<line x1="315.20" y1="108.40" x2="317.50" y2="108.40" stroke="#1a1a1a" stroke-width="1.1"/>
<text x="311.90" y="109.90" font-size="5.6" text-anchor="end" fill="#262626" stroke="#262626" stroke-width="0.14" textLength="11.60" lengthAdjust="spacingAndGlyphs">0.25</text>
<line x1="315.20" y1="80.40" x2="317.50" y2="80.40" stroke="#1a1a1a" stroke-width="1.1"/>
<text x="311.90" y="81.90" font-size="5.6" text-anchor="end" fill="#262626" stroke="#262626" stroke-width="0.14" textLength="11.60" lengthAdjust="spacingAndGlyphs">0.50</text>
<line x1="315.20" y1="52.40" x2="317.50" y2="52.40" stroke="#1a1a1a" stroke-width="1.1"/>
<text x="311.90" y="53.90" font-size="5.6" text-anchor="end" fill="#262626" stroke="#262626" stroke-width="0.14" textLength="11.60" lengthAdjust="spacingAndGlyphs">0.75</text>
<line x1="315.20" y1="24.40" x2="317.50" y2="24.40" stroke="#1a1a1a" stroke-width="1.1"/>
<text x="311.90" y="25.90" font-size="5.6" text-anchor="end" fill="#262626" stroke="#262626" stroke-width="0.14" textLength="11.60" lengthAdjust="spacingAndGlyphs">1.00</text>
<line x1="326.20" y1="141.30" x2="326.20" y2="144.50" stroke="#1a1a1a" stroke-width="1.1"/>
<text x="326.20" y="152.70" font-size="5.6" text-anchor="middle" fill="#262626" stroke="#262626" stroke-width="0.14">0</text>
<line x1="339.60" y1="141.30" x2="339.60" y2="144.50" stroke="#1a1a1a" stroke-width="1.1"/>
<text x="339.60" y="152.70" font-size="5.6" text-anchor="middle" fill="#262626" stroke="#262626" stroke-width="0.14">12</text>
<line x1="353.00" y1="141.30" x2="353.00" y2="144.50" stroke="#1a1a1a" stroke-width="1.1"/>
<text x="353.00" y="152.70" font-size="5.6" text-anchor="middle" fill="#262626" stroke="#262626" stroke-width="0.14">24</text>
<line x1="366.40" y1="141.30" x2="366.40" y2="144.50" stroke="#1a1a1a" stroke-width="1.1"/>
<text x="366.40" y="152.70" font-size="5.6" text-anchor="middle" fill="#262626" stroke="#262626" stroke-width="0.14">36</text>
<line x1="379.80" y1="141.30" x2="379.80" y2="144.50" stroke="#1a1a1a" stroke-width="1.1"/>
<text x="379.80" y="152.70" font-size="5.6" text-anchor="middle" fill="#262626" stroke="#262626" stroke-width="0.14">48</text>
<line x1="393.20" y1="141.30" x2="393.20" y2="144.50" stroke="#1a1a1a" stroke-width="1.1"/>
<text x="393.20" y="152.70" font-size="5.6" text-anchor="middle" fill="#262626" stroke="#262626" stroke-width="0.14">60</text>
<line x1="406.60" y1="141.30" x2="406.60" y2="144.50" stroke="#1a1a1a" stroke-width="1.1"/>
<text x="406.60" y="152.70" font-size="5.6" text-anchor="middle" fill="#262626" stroke="#262626" stroke-width="0.14">72</text>
<line x1="420.00" y1="141.30" x2="420.00" y2="144.50" stroke="#1a1a1a" stroke-width="1.1"/>
<text x="420.00" y="152.70" font-size="5.6" text-anchor="middle" fill="#262626" stroke="#262626" stroke-width="0.14">84</text>
<line x1="433.40" y1="141.30" x2="433.40" y2="144.50" stroke="#1a1a1a" stroke-width="1.1"/>
<text x="433.40" y="152.70" font-size="5.6" text-anchor="middle" fill="#262626" stroke="#262626" stroke-width="0.14">96</text>
<line x1="446.80" y1="141.30" x2="446.80" y2="144.50" stroke="#1a1a1a" stroke-width="1.1"/>
<text x="446.80" y="152.70" font-size="5.6" text-anchor="middle" fill="#262626" stroke="#262626" stroke-width="0.14">108</text>
<line x1="460.20" y1="141.30" x2="460.20" y2="144.50" stroke="#1a1a1a" stroke-width="1.1"/>
<text x="460.20" y="152.70" font-size="5.6" text-anchor="middle" fill="#262626" stroke="#262626" stroke-width="0.14">120</text>
<line x1="473.60" y1="141.30" x2="473.60" y2="144.50" stroke="#1a1a1a" stroke-width="1.1"/>
<text x="473.60" y="152.70" font-size="5.6" text-anchor="middle" fill="#262626" stroke="#262626" stroke-width="0.14">132</text>
<line x1="487.00" y1="141.30" x2="487.00" y2="144.50" stroke="#1a1a1a" stroke-width="1.1"/>
<text x="487.00" y="152.70" font-size="5.6" text-anchor="middle" fill="#262626" stroke="#262626" stroke-width="0.14">144</text>
<line x1="500.40" y1="141.30" x2="500.40" y2="144.50" stroke="#1a1a1a" stroke-width="1.1"/>
<text x="500.40" y="152.70" font-size="5.6" text-anchor="middle" fill="#262626" stroke="#262626" stroke-width="0.14">156</text>
<text x="295.3" y="79.50" font-size="8" font-weight="bold" text-anchor="middle" fill="#1a1a1a" textLength="5.9" lengthAdjust="spacingAndGlyphs" transform="rotate(-90 295.3 79.50)">OS</text>
<text x="394.60" y="163.60" font-size="7.6" text-anchor="start" fill="#222" font-weight="bold" textLength="36.90" lengthAdjust="spacingAndGlyphs">Time in months</text>
<text x="333.90" y="121.50" font-size="6.4" font-style="italic" fill="#262626" stroke="#262626" stroke-width="0.2">P</text>
<text x="338.60" y="121.50" font-size="6.4" fill="#262626" stroke="#262626" stroke-width="0.2" textLength="4.2" lengthAdjust="spacingAndGlyphs">&lt;</text>
<text x="343.50" y="121.50" font-size="6.4" fill="#262626" stroke="#262626" stroke-width="0.2" textLength="14.80" lengthAdjust="spacingAndGlyphs">.0001</text>
<text x="318.00" y="172.70" font-size="6.0" text-anchor="start" fill="#222" stroke="#222" stroke-width="0.14" textLength="36.80" lengthAdjust="spacingAndGlyphs">Number at risk</text>
<line x1="317.50" y1="177.30" x2="317.50" y2="202.80" stroke="#1a1a1a" stroke-width="1.3"/>
<line x1="316.90" y1="202.20" x2="513.00" y2="202.20" stroke="#1a1a1a" stroke-width="1.3"/>
<line x1="315.20" y1="182.00" x2="317.50" y2="182.00" stroke="#1a1a1a" stroke-width="1.1"/>
<text x="311.70" y="184.00" font-size="5.6" text-anchor="end" fill="#b8545a" stroke="#b8545a" stroke-width="0.14" textLength="33.90" lengthAdjust="spacingAndGlyphs">Standard risk</text>
<text x="326.20" y="184.30" font-size="6.3" text-anchor="middle" fill="#b8545a" stroke="#b8545a" stroke-width="0.14" textLength="9.67" lengthAdjust="spacingAndGlyphs">562</text>
<text x="339.60" y="184.30" font-size="6.3" text-anchor="middle" fill="#b8545a" stroke="#b8545a" stroke-width="0.14" textLength="9.67" lengthAdjust="spacingAndGlyphs">556</text>
<text x="353.00" y="184.30" font-size="6.3" text-anchor="middle" fill="#b8545a" stroke="#b8545a" stroke-width="0.14" textLength="9.67" lengthAdjust="spacingAndGlyphs">540</text>
<text x="366.40" y="184.30" font-size="6.3" text-anchor="middle" fill="#b8545a" stroke="#b8545a" stroke-width="0.14" textLength="9.67" lengthAdjust="spacingAndGlyphs">515</text>
<text x="379.80" y="184.30" font-size="6.3" text-anchor="middle" fill="#b8545a" stroke="#b8545a" stroke-width="0.14" textLength="9.67" lengthAdjust="spacingAndGlyphs">440</text>
<text x="393.20" y="184.30" font-size="6.3" text-anchor="middle" fill="#b8545a" stroke="#b8545a" stroke-width="0.14" textLength="9.67" lengthAdjust="spacingAndGlyphs">309</text>
<text x="406.60" y="184.30" font-size="6.3" text-anchor="middle" fill="#b8545a" stroke="#b8545a" stroke-width="0.14" textLength="9.67" lengthAdjust="spacingAndGlyphs">186</text>
<text x="420.00" y="184.30" font-size="6.3" text-anchor="middle" fill="#b8545a" stroke="#b8545a" stroke-width="0.14" textLength="9.67" lengthAdjust="spacingAndGlyphs">121</text>
<text x="433.40" y="184.30" font-size="6.3" text-anchor="middle" fill="#b8545a" stroke="#b8545a" stroke-width="0.14" textLength="6.45" lengthAdjust="spacingAndGlyphs">85</text>
<text x="446.80" y="184.30" font-size="6.3" text-anchor="middle" fill="#b8545a" stroke="#b8545a" stroke-width="0.14" textLength="6.45" lengthAdjust="spacingAndGlyphs">55</text>
<text x="460.20" y="184.30" font-size="6.3" text-anchor="middle" fill="#b8545a" stroke="#b8545a" stroke-width="0.14" textLength="6.45" lengthAdjust="spacingAndGlyphs">30</text>
<text x="473.60" y="184.30" font-size="6.3" text-anchor="middle" fill="#b8545a" stroke="#b8545a" stroke-width="0.14" textLength="6.45" lengthAdjust="spacingAndGlyphs">12</text>
<text x="487.00" y="184.30" font-size="6.3" text-anchor="middle" fill="#b8545a" stroke="#b8545a" stroke-width="0.14" textLength="3.22" lengthAdjust="spacingAndGlyphs">6</text>
<text x="500.40" y="184.30" font-size="6.3" text-anchor="middle" fill="#b8545a" stroke="#b8545a" stroke-width="0.14" textLength="3.22" lengthAdjust="spacingAndGlyphs">3</text>
<line x1="315.20" y1="190.30" x2="317.50" y2="190.30" stroke="#1a1a1a" stroke-width="1.1"/>
<text x="311.70" y="192.30" font-size="5.6" text-anchor="end" fill="#43538b" stroke="#43538b" stroke-width="0.14" textLength="18.50" lengthAdjust="spacingAndGlyphs">One-hit</text>
<text x="326.20" y="192.60" font-size="6.3" text-anchor="middle" fill="#43538b" stroke="#43538b" stroke-width="0.14" textLength="9.67" lengthAdjust="spacingAndGlyphs">355</text>
<text x="339.60" y="192.60" font-size="6.3" text-anchor="middle" fill="#43538b" stroke="#43538b" stroke-width="0.14" textLength="9.67" lengthAdjust="spacingAndGlyphs">351</text>
<text x="353.00" y="192.60" font-size="6.3" text-anchor="middle" fill="#43538b" stroke="#43538b" stroke-width="0.14" textLength="9.67" lengthAdjust="spacingAndGlyphs">315</text>
<text x="366.40" y="192.60" font-size="6.3" text-anchor="middle" fill="#43538b" stroke="#43538b" stroke-width="0.14" textLength="9.67" lengthAdjust="spacingAndGlyphs">290</text>
<text x="379.80" y="192.60" font-size="6.3" text-anchor="middle" fill="#43538b" stroke="#43538b" stroke-width="0.14" textLength="9.67" lengthAdjust="spacingAndGlyphs">229</text>
<text x="393.20" y="192.60" font-size="6.3" text-anchor="middle" fill="#43538b" stroke="#43538b" stroke-width="0.14" textLength="9.67" lengthAdjust="spacingAndGlyphs">162</text>
<text x="406.60" y="192.60" font-size="6.3" text-anchor="middle" fill="#43538b" stroke="#43538b" stroke-width="0.14" textLength="6.45" lengthAdjust="spacingAndGlyphs">98</text>
<text x="420.00" y="192.60" font-size="6.3" text-anchor="middle" fill="#43538b" stroke="#43538b" stroke-width="0.14" textLength="6.45" lengthAdjust="spacingAndGlyphs">43</text>
<text x="433.40" y="192.60" font-size="6.3" text-anchor="middle" fill="#43538b" stroke="#43538b" stroke-width="0.14" textLength="6.45" lengthAdjust="spacingAndGlyphs">28</text>
<text x="446.80" y="192.60" font-size="6.3" text-anchor="middle" fill="#43538b" stroke="#43538b" stroke-width="0.14" textLength="6.45" lengthAdjust="spacingAndGlyphs">11</text>
<text x="460.20" y="192.60" font-size="6.3" text-anchor="middle" fill="#43538b" stroke="#43538b" stroke-width="0.14" textLength="3.22" lengthAdjust="spacingAndGlyphs">4</text>
<text x="473.60" y="192.60" font-size="6.3" text-anchor="middle" fill="#43538b" stroke="#43538b" stroke-width="0.14" textLength="3.22" lengthAdjust="spacingAndGlyphs">3</text>
<text x="487.00" y="192.60" font-size="6.3" text-anchor="middle" fill="#43538b" stroke="#43538b" stroke-width="0.14" textLength="3.22" lengthAdjust="spacingAndGlyphs">1</text>
<text x="500.40" y="192.60" font-size="6.3" text-anchor="middle" fill="#43538b" stroke="#43538b" stroke-width="0.14" textLength="3.22" lengthAdjust="spacingAndGlyphs">0</text>
<line x1="315.20" y1="198.40" x2="317.50" y2="198.40" stroke="#1a1a1a" stroke-width="1.1"/>
<text x="311.70" y="200.40" font-size="5.6" text-anchor="end" fill="#92bf72" stroke="#92bf72" stroke-width="0.14" textLength="25.70" lengthAdjust="spacingAndGlyphs">Double-hit</text>
<text x="326.20" y="200.70" font-size="6.3" text-anchor="middle" fill="#92bf72" stroke="#92bf72" stroke-width="0.14" textLength="9.67" lengthAdjust="spacingAndGlyphs">116</text>
<text x="339.60" y="200.70" font-size="6.3" text-anchor="middle" fill="#92bf72" stroke="#92bf72" stroke-width="0.14" textLength="9.67" lengthAdjust="spacingAndGlyphs">107</text>
<text x="353.00" y="200.70" font-size="6.3" text-anchor="middle" fill="#92bf72" stroke="#92bf72" stroke-width="0.14" textLength="6.45" lengthAdjust="spacingAndGlyphs">88</text>
<text x="366.40" y="200.70" font-size="6.3" text-anchor="middle" fill="#92bf72" stroke="#92bf72" stroke-width="0.14" textLength="6.45" lengthAdjust="spacingAndGlyphs">78</text>
<text x="379.80" y="200.70" font-size="6.3" text-anchor="middle" fill="#92bf72" stroke="#92bf72" stroke-width="0.14" textLength="6.45" lengthAdjust="spacingAndGlyphs">59</text>
<text x="393.20" y="200.70" font-size="6.3" text-anchor="middle" fill="#92bf72" stroke="#92bf72" stroke-width="0.14" textLength="6.45" lengthAdjust="spacingAndGlyphs">33</text>
<text x="406.60" y="200.70" font-size="6.3" text-anchor="middle" fill="#92bf72" stroke="#92bf72" stroke-width="0.14" textLength="6.45" lengthAdjust="spacingAndGlyphs">21</text>
<text x="420.00" y="200.70" font-size="6.3" text-anchor="middle" fill="#92bf72" stroke="#92bf72" stroke-width="0.14" textLength="6.45" lengthAdjust="spacingAndGlyphs">10</text>
<text x="433.40" y="200.70" font-size="6.3" text-anchor="middle" fill="#92bf72" stroke="#92bf72" stroke-width="0.14" textLength="3.22" lengthAdjust="spacingAndGlyphs">5</text>
<text x="446.80" y="200.70" font-size="6.3" text-anchor="middle" fill="#92bf72" stroke="#92bf72" stroke-width="0.14" textLength="3.22" lengthAdjust="spacingAndGlyphs">4</text>
<text x="460.20" y="200.70" font-size="6.3" text-anchor="middle" fill="#92bf72" stroke="#92bf72" stroke-width="0.14" textLength="3.22" lengthAdjust="spacingAndGlyphs">2</text>
<text x="473.60" y="200.70" font-size="6.3" text-anchor="middle" fill="#92bf72" stroke="#92bf72" stroke-width="0.14" textLength="3.22" lengthAdjust="spacingAndGlyphs">1</text>
<text x="487.00" y="200.70" font-size="6.3" text-anchor="middle" fill="#92bf72" stroke="#92bf72" stroke-width="0.14" textLength="3.22" lengthAdjust="spacingAndGlyphs">1</text>
<text x="500.40" y="200.70" font-size="6.3" text-anchor="middle" fill="#92bf72" stroke="#92bf72" stroke-width="0.14" textLength="3.22" lengthAdjust="spacingAndGlyphs">1</text>
<line x1="326.20" y1="202.20" x2="326.20" y2="205.40" stroke="#1a1a1a" stroke-width="1.1"/>
<text x="326.20" y="213.70" font-size="5.6" text-anchor="middle" fill="#262626" stroke="#262626" stroke-width="0.14">0</text>
<line x1="339.60" y1="202.20" x2="339.60" y2="205.40" stroke="#1a1a1a" stroke-width="1.1"/>
<text x="339.60" y="213.70" font-size="5.6" text-anchor="middle" fill="#262626" stroke="#262626" stroke-width="0.14">12</text>
<line x1="353.00" y1="202.20" x2="353.00" y2="205.40" stroke="#1a1a1a" stroke-width="1.1"/>
<text x="353.00" y="213.70" font-size="5.6" text-anchor="middle" fill="#262626" stroke="#262626" stroke-width="0.14">24</text>
<line x1="366.40" y1="202.20" x2="366.40" y2="205.40" stroke="#1a1a1a" stroke-width="1.1"/>
<text x="366.40" y="213.70" font-size="5.6" text-anchor="middle" fill="#262626" stroke="#262626" stroke-width="0.14">36</text>
<line x1="379.80" y1="202.20" x2="379.80" y2="205.40" stroke="#1a1a1a" stroke-width="1.1"/>
<text x="379.80" y="213.70" font-size="5.6" text-anchor="middle" fill="#262626" stroke="#262626" stroke-width="0.14">48</text>
<line x1="393.20" y1="202.20" x2="393.20" y2="205.40" stroke="#1a1a1a" stroke-width="1.1"/>
<text x="393.20" y="213.70" font-size="5.6" text-anchor="middle" fill="#262626" stroke="#262626" stroke-width="0.14">60</text>
<line x1="406.60" y1="202.20" x2="406.60" y2="205.40" stroke="#1a1a1a" stroke-width="1.1"/>
<text x="406.60" y="213.70" font-size="5.6" text-anchor="middle" fill="#262626" stroke="#262626" stroke-width="0.14">72</text>
<line x1="420.00" y1="202.20" x2="420.00" y2="205.40" stroke="#1a1a1a" stroke-width="1.1"/>
<text x="420.00" y="213.70" font-size="5.6" text-anchor="middle" fill="#262626" stroke="#262626" stroke-width="0.14">84</text>
<line x1="433.40" y1="202.20" x2="433.40" y2="205.40" stroke="#1a1a1a" stroke-width="1.1"/>
<text x="433.40" y="213.70" font-size="5.6" text-anchor="middle" fill="#262626" stroke="#262626" stroke-width="0.14">96</text>
<line x1="446.80" y1="202.20" x2="446.80" y2="205.40" stroke="#1a1a1a" stroke-width="1.1"/>
<text x="446.80" y="213.70" font-size="5.6" text-anchor="middle" fill="#262626" stroke="#262626" stroke-width="0.14">108</text>
<line x1="460.20" y1="202.20" x2="460.20" y2="205.40" stroke="#1a1a1a" stroke-width="1.1"/>
<text x="460.20" y="213.70" font-size="5.6" text-anchor="middle" fill="#262626" stroke="#262626" stroke-width="0.14">120</text>
<line x1="473.60" y1="202.20" x2="473.60" y2="205.40" stroke="#1a1a1a" stroke-width="1.1"/>
<text x="473.60" y="213.70" font-size="5.6" text-anchor="middle" fill="#262626" stroke="#262626" stroke-width="0.14">132</text>
<line x1="487.00" y1="202.20" x2="487.00" y2="205.40" stroke="#1a1a1a" stroke-width="1.1"/>
<text x="487.00" y="213.70" font-size="5.6" text-anchor="middle" fill="#262626" stroke="#262626" stroke-width="0.14">144</text>
<line x1="500.40" y1="202.20" x2="500.40" y2="205.40" stroke="#1a1a1a" stroke-width="1.1"/>
<text x="500.40" y="213.70" font-size="5.6" text-anchor="middle" fill="#262626" stroke="#262626" stroke-width="0.14">156</text>
<text x="397.20" y="225.00" font-size="7.6" text-anchor="start" fill="#222" font-weight="bold" textLength="36.90" lengthAdjust="spacingAndGlyphs">Time in months</text>
<text x="273.00" y="191.80" font-size="7.8" font-weight="bold" text-anchor="middle" fill="#222" textLength="15.4" lengthAdjust="spacingAndGlyphs" transform="rotate(-90 273.00 191.8)">Strata</text>
<text x="90.10" y="237.80" font-size="5.6" text-anchor="start" fill="#222" stroke="#222" stroke-width="0.14" textLength="14.60" lengthAdjust="spacingAndGlyphs">Strata</text>
<rect x="110.10" y="233.0" width="5" height="5" fill="#c97b6d"/>
<line x1="110.10" y1="235.50" x2="115.10" y2="235.50" stroke="#981a1e" stroke-width="0.8"/>
<text x="117.80" y="237.80" font-size="5.6" text-anchor="start" fill="#222" stroke="#222" stroke-width="0.14" textLength="31.00" lengthAdjust="spacingAndGlyphs">Standard risk</text>
<rect x="155.40" y="233.0" width="5" height="5" fill="#7d87b9"/>
<line x1="155.40" y1="235.50" x2="160.40" y2="235.50" stroke="#24306f" stroke-width="0.8"/>
<text x="163.10" y="237.80" font-size="5.6" text-anchor="start" fill="#222" stroke="#222" stroke-width="0.14" textLength="17.70" lengthAdjust="spacingAndGlyphs">One-hit</text>
<rect x="188.60" y="233.0" width="5" height="5" fill="#aacd8c"/>
<line x1="188.60" y1="235.50" x2="193.60" y2="235.50" stroke="#4f8f32" stroke-width="0.8"/>
<text x="196.60" y="237.80" font-size="5.6" text-anchor="start" fill="#222" stroke="#222" stroke-width="0.14" textLength="24.90" lengthAdjust="spacingAndGlyphs">Double-hit</text>
<text x="351.50" y="237.80" font-size="5.6" text-anchor="start" fill="#222" stroke="#222" stroke-width="0.14" textLength="14.60" lengthAdjust="spacingAndGlyphs">Strata</text>
<rect x="371.00" y="233.0" width="5" height="5" fill="#c97b6d"/>
<line x1="371.00" y1="235.50" x2="376.00" y2="235.50" stroke="#981a1e" stroke-width="0.8"/>
<text x="379.20" y="237.80" font-size="5.6" text-anchor="start" fill="#222" stroke="#222" stroke-width="0.14" textLength="30.80" lengthAdjust="spacingAndGlyphs">Standard risk</text>
<rect x="416.00" y="233.0" width="5" height="5" fill="#7d87b9"/>
<line x1="416.00" y1="235.50" x2="421.00" y2="235.50" stroke="#24306f" stroke-width="0.8"/>
<text x="424.20" y="237.80" font-size="5.6" text-anchor="start" fill="#222" stroke="#222" stroke-width="0.14" textLength="17.30" lengthAdjust="spacingAndGlyphs">One-hit</text>
<rect x="450.00" y="233.0" width="5" height="5" fill="#aacd8c"/>
<line x1="450.00" y1="235.50" x2="455.00" y2="235.50" stroke="#4f8f32" stroke-width="0.8"/>
<text x="457.70" y="237.80" font-size="5.6" text-anchor="start" fill="#222" stroke="#222" stroke-width="0.14" textLength="24.60" lengthAdjust="spacingAndGlyphs">Double-hit</text>
<rect x="0" y="1" width="520" height="1" fill="#e6e6e6"/>
<rect x="1" y="0" width="1" height="245" fill="#e2e2e2"/>
<rect x="518" y="0" width="1" height="245" fill="#d4d4d4"/>
<rect x="0" y="243" width="520" height="1" fill="#c4c4c4"/>
<rect x="0" y="0" width="520" height="1" fill="#727272"/>
<rect x="0" y="0" width="1" height="245" fill="#6e6e6e"/>
<rect x="519" y="0" width="1" height="245" fill="#666666"/>
<rect x="0" y="244" width="520" height="1" fill="#505050"/>
</svg>
</body></html>
